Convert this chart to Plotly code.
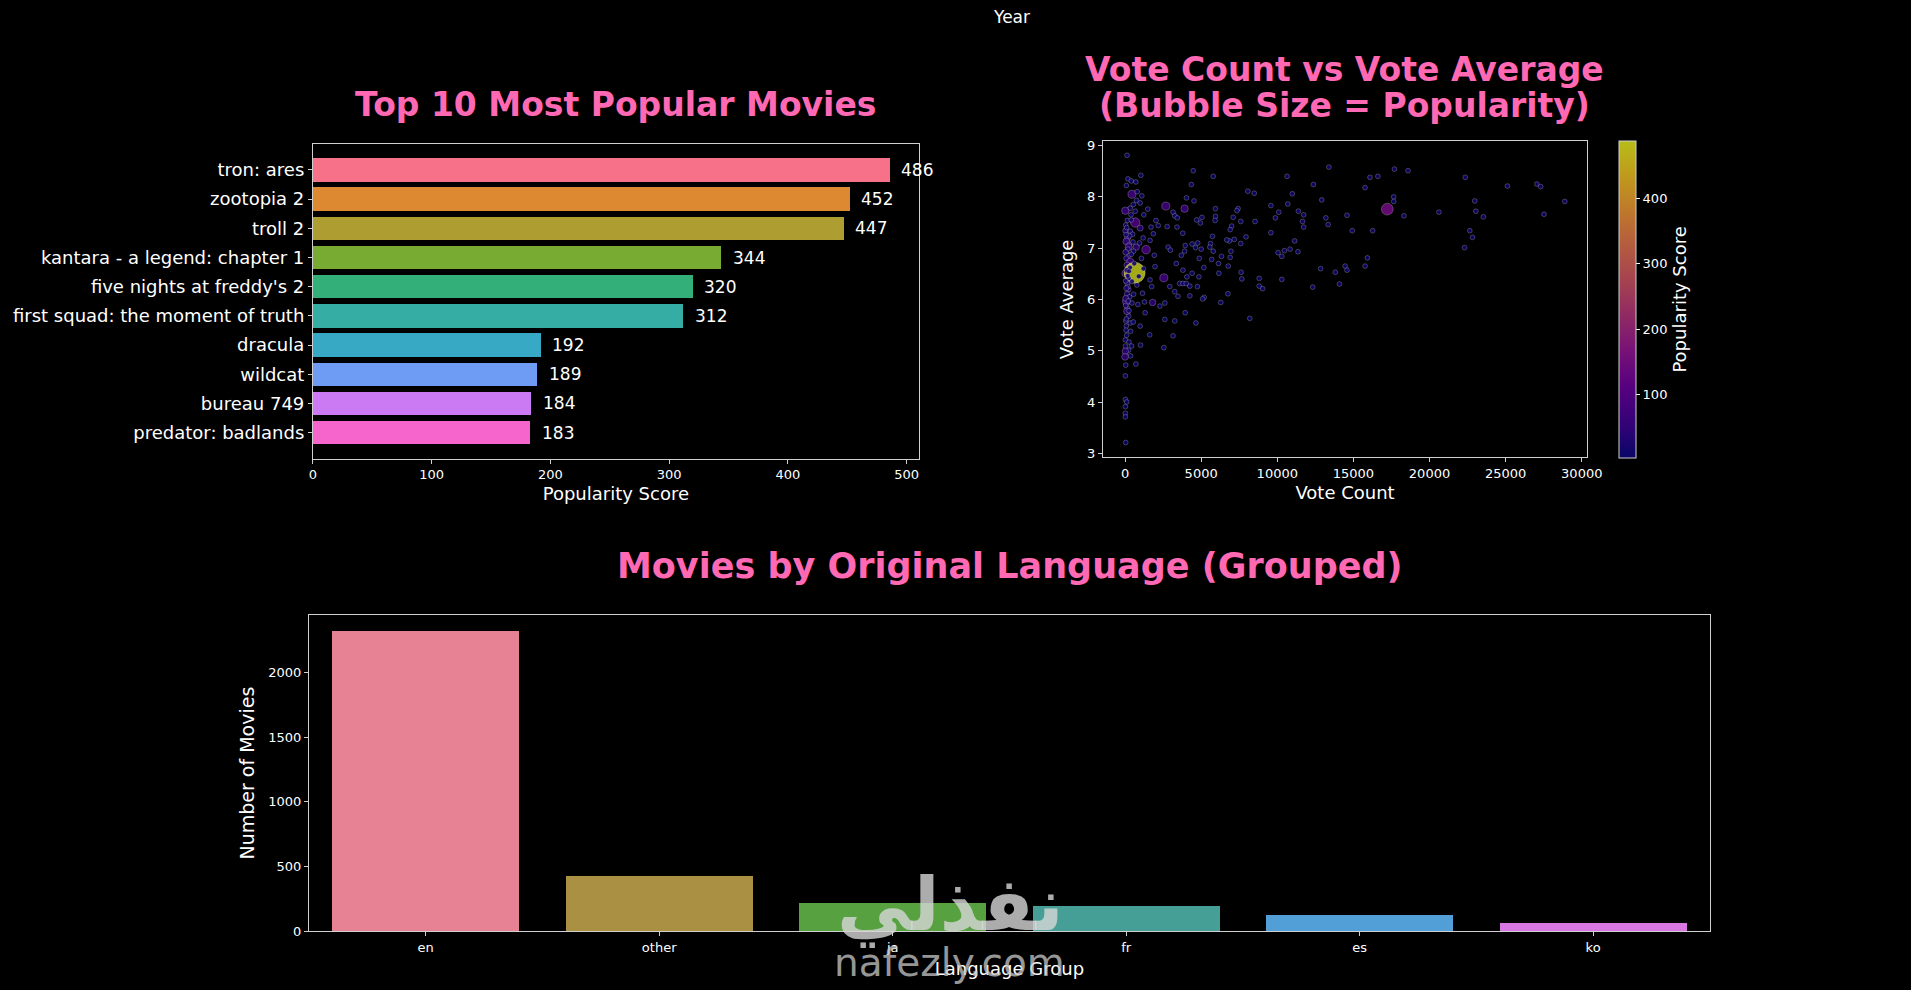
import plotly.graph_objects as go

# Top 10 movies by popularity
movie_titles = ["tron: ares", "zootopia 2", "troll 2", "kantara - a legend: chapter 1",
                "five nights at freddy's 2", "first squad: the moment of truth",
                "dracula", "wildcat", "bureau 749", "predator: badlands"]
movie_popularity = [486, 452, 447, 344, 320, 312, 192, 189, 184, 183]
top_colors = ["#f77189", "#dc8932", "#ae9d31", "#77ab31", "#33b07a",
              "#36ada4", "#38a9c5", "#6e9bf4", "#cc7af4", "#f565cc"]

# Movies per language group
languages = ["en", "other", "ja", "fr", "es", "ko"]
language_counts = [2321, 424, 213, 196, 120, 61]
lang_colors = ["#e68294", "#aa9043", "#58a141", "#459f97", "#519fd6", "#d978e2"]

# Scatter: vote count / vote average / popularity
vote_count = [
    130, 194, 410, 713, 1037, 86, 454, 799, 1102, 756, 994, 22, 346, 670, 1490, 389, 151, 670,
    994, 22, 346, 497, 173, 86, 281, 238, 734, 1382, 562, 281, 86, 346, 130, 22, 626, 238, 151,
    778, 238, 130, 86, 454, 842, 151, 130, 238, 346, 86, 994,
    2678, 3910, 2030, 3154, 3262, 3434, 2182, 2765, 3413, 1706, 1858, 1642, 1922, 2830, 2981,
    3953, 3694, 3370, 3802, 1966, 2549, 1642, 1750, 3586, 3802, 4018, 2938, 3262, 3478, 2614,
    1814, 2290, 3953, 2614, 3262, 1318,
    43, 540, 65, 367, 1620, 3154, 108, 22, 259, 432, 1015, 22, 238, 22, 367, 0, 713, 2549, 43,
    22, 22, 108, 22, 22, 22, 43,
    43, 108, 302, 65, 194, 43, 324, 108, 259, 43, 194, 86, 302, 43, 216, 43, 259, 86, 173, 411,
    519, 605, 454, 562, 411, 540, 1188, 1210, 1145, 1280, 1080, 950, 905, 1232,
    13390, 25121, 27052, 27299, 28883, 27522, 22349, 22968, 23042, 23537, 22646, 22820, 22300,
    20617, 18587, 17696, 17647, 17647, 17226, 18315, 16607, 16088, 15766, 16261, 15914, 15766,
    14924, 14578, 14454, 14578, 13810, 14083, 13340, 13192, 12920, 12845, 12375, 12325, 11731,
    11657, 11731, 11385, 10989, 10643, 10692, 11138, 10841, 11360, 10469, 10296, 10296, 10049,
    10098, 9875, 9578, 9578, 9034, 8811, 8811, 8489, 8069, 8539, 7945, 8192, 7672, 7623, 7598,
    7598, 7425, 7351, 7177, 7103, 7004, 6905, 6855, 6955, 6905, 6781, 6757, 6683, 6336, 6287,
    6138, 6163, 5792, 5940, 5940, 5915, 5742, 5618, 5792, 5693, 5569, 5173, 5198, 5099, 5049,
    4950, 5000, 4777, 4876, 4851, 4752, 4703, 4480, 4529, 4356, 4406, 4406, 4628, 4653, 4257,
    4257, 4034, 3910, 3787, 4059,
]
vote_average = [
    8.81, 8.35, 8.31, 8.29, 8.42, 8.22, 8.05, 8.10, 8.02, 7.93, 7.88, 7.73, 7.78, 7.72, 7.76,
    7.65, 7.54, 7.50, 7.39, 7.34, 7.33, 7.27, 7.20, 7.13, 7.07, 7.02, 7.02, 6.97, 6.94, 6.86,
    6.80, 6.73, 6.67, 6.51, 6.52, 6.41, 6.31, 6.28, 6.19, 6.11, 5.96, 5.93, 5.90, 5.83, 5.77,
    5.67, 5.54, 5.48, 5.48,
    7.82, 7.77, 7.54, 7.70, 7.63, 7.59, 7.44, 7.42, 7.41, 7.41, 7.28, 7.15, 6.86, 7.02, 6.96,
    7.05, 6.86, 6.70, 6.57, 6.64, 6.42, 6.38, 6.25, 6.31, 6.31, 6.31, 6.25, 6.15, 6.06, 5.93,
    5.94, 5.87, 5.74, 5.61, 5.58, 5.74,
    5.58, 5.56, 5.40, 5.38, 5.31, 5.29, 5.30, 5.21, 5.17, 5.09, 5.11, 5.09, 5.01, 4.99, 4.90,
    4.88, 4.74, 5.06, 4.72, 4.51, 4.05, 4.00, 3.91, 3.78, 3.71, 3.21,
    7.45, 7.40, 7.24, 7.26, 6.98, 6.92, 6.62, 6.57, 6.55, 6.36, 6.25, 6.22, 6.05, 6.02, 5.97,
    5.88, 5.78, 5.62, 6.46, 6.88, 7.12, 6.70, 6.35, 6.10, 7.55, 7.85, 7.20, 6.60, 6.12, 5.95,
    6.80, 7.10, 6.45, 7.65,
    8.58, 8.21, 8.25, 8.20, 7.91, 7.66, 8.38, 7.92, 7.72, 7.61, 7.34, 7.21, 7.01, 7.70, 8.51,
    8.54, 8.00, 7.91, 7.76, 7.63, 8.40, 8.38, 8.18, 7.34, 6.81, 6.65, 7.34, 7.64, 6.65, 6.57,
    6.53, 6.30, 7.46, 7.59, 7.94, 6.60, 8.24, 6.24, 7.65, 7.52, 7.41, 7.72, 8.06, 8.40, 7.86,
    7.14, 6.98, 6.93, 6.95, 6.84, 6.39, 6.91, 7.70, 7.59, 7.83, 7.30, 6.21, 6.41, 6.26, 8.07,
    8.11, 7.52, 7.22, 5.63, 6.40, 6.53, 7.09, 7.52, 7.77, 7.73, 7.17, 7.60, 7.43, 7.36, 7.14,
    6.94, 6.82, 6.65, 6.11, 7.16, 6.84, 5.94, 6.70, 6.51, 8.40, 7.77, 7.62, 7.54, 7.23, 7.09,
    6.94, 6.78, 7.02, 6.62, 6.04, 6.01, 7.60, 7.49, 6.98, 7.10, 6.80, 6.44, 6.25, 7.55, 8.51,
    7.92, 8.24, 7.08, 6.51, 7.01, 5.54, 6.26, 6.07, 7.98, 6.94, 7.29, 6.44,
]
popularity = [
    10, 8, 8, 8, 6, 8, 70, 10, 8, 8, 10, 60, 12, 10, 8, 14, 20, 95, 40, 30, 16, 12, 40, 50, 24,
    55, 45, 80, 14, 20, 30, 60, 40, 55, 486, 22, 30, 18, 24, 30, 65, 12, 10, 20, 50, 14, 10, 16, 8,
    70, 60, 10, 14, 10, 8, 8, 10, 8, 12, 8, 10, 8, 12, 10, 8, 8, 8, 10, 8, 70, 8, 8, 10, 12, 8,
    8, 6, 6, 8, 45, 6, 6, 6, 6, 8,
    10, 8, 10, 8, 6, 6, 10, 12, 8, 8, 6, 10, 8, 45, 8, 50, 6, 6, 8, 6, 6, 6, 6, 6, 6, 6,
    10, 16, 10, 22, 16, 35, 12, 28, 16, 24, 12, 30, 10, 40, 14, 22, 8, 14, 18, 10, 10, 12, 10,
    10, 10, 10, 8, 8, 8, 8, 10, 10, 10, 8,
    12, 14, 16, 12, 18, 10, 12, 10, 20, 10, 18, 8, 8, 10, 12, 14, 10, 8, 150, 8, 10, 14, 12, 20,
    8, 12, 14, 8, 10, 10, 8, 12, 8, 8, 16, 8, 8, 8, 10, 22, 12, 14, 16, 8, 8, 20, 8, 8, 12, 8,
    10, 8, 8, 10, 8, 10, 8, 8, 8, 10, 8, 6, 6, 6, 8, 12, 6, 8, 8, 6, 8, 10, 10, 6, 8, 6, 10, 10,
    6, 6, 6, 6, 6, 6, 6, 6, 6, 6, 6, 6, 8, 6, 6, 6, 8, 6, 10, 8, 12, 8, 6, 8, 6, 6, 6, 14, 8, 6,
    6, 6, 6, 8, 8, 6, 6, 6, 6, 6, 6,
]

FONT = "DejaVu Sans"
PINK = "#ff69b4"
W, H = 1911, 990

# plasma, dimmed as if drawn with alpha on black
plasma = ["#0d0887", "#46039f", "#7201a8", "#9c179e", "#bd3786",
          "#d8576b", "#ed7953", "#fb9f3a", "#fdca26", "#f0f921"]


def dim(c, k=0.76):
    r, g, b = int(c[1:3], 16), int(c[3:5], 16), int(c[5:7], 16)
    return "rgb(%d,%d,%d)" % (r * k, g * k, b * k)


plasma_dim = [[i / (len(plasma) - 1), dim(c)] for i, c in enumerate(plasma)]


def px_x(v):
    return v / W


def px_y(v):
    return 1 - v / H


fig = go.Figure()

# top 10 bars
fig.add_trace(go.Bar(
    x=movie_popularity, y=movie_titles, orientation="h",
    marker=dict(color=top_colors, line=dict(width=0)), width=0.8,
    xaxis="x", yaxis="y", showlegend=False, hoverinfo="x+y"
))

# bubble scatter
fig.add_trace(go.Scatter(
    x=vote_count, y=vote_average, mode="markers",
    xaxis="x2", yaxis="y2", showlegend=False,
    marker=dict(
        size=popularity, sizemode="area", sizeref=486 / 15 ** 2, sizemin=2.4,
        color=popularity, colorscale=plasma_dim, cmin=3.2, cmax=488,
        opacity=0.9, line=dict(color="rgba(255,255,255,0.5)", width=0.5),
        colorbar=dict(
            x=px_x(1631.5), xanchor="left", xpad=0, ypad=0,
            y=(px_y(139.5) + px_y(460)) / 2, yanchor="middle",
            len=(460 - 139.5) / H, lenmode="fraction", thickness=17,
            outlinecolor="#cfcfcf", outlinewidth=1,
            tickvals=[100, 200, 300, 400], ticks="outside", ticklen=4,
            tickcolor="white", tickfont=dict(family=FONT, size=13, color="white"),
            title=dict(text="Popularity Score", side="right",
                       font=dict(family=FONT, size=18, color="white")),
        ),
    ),
))

# language bars
fig.add_trace(go.Bar(
    x=languages, y=language_counts, marker=dict(color=lang_colors, line=dict(width=0)),
    width=0.8, xaxis="x3", yaxis="y3", showlegend=False
))

axis_style = dict(showline=True, mirror=True, linecolor="#d0d0d0", linewidth=1,
                  ticks="outside", ticklen=4, tickcolor="#d0d0d0", showgrid=False,
                  zeroline=False, tickfont=dict(family=FONT, size=13, color="white"))
title_font = dict(family=FONT, size=18, color="white")

fig.update_layout(
    width=W, height=H, autosize=False, margin=dict(l=0, r=0, t=0, b=0),
    paper_bgcolor="black", plot_bgcolor="black",
    font=dict(family=FONT, color="white"),
    bargap=0,
    xaxis=dict(axis_style, domain=[px_x(312), px_x(924)], anchor="y", range=[0, 510.3],
               tickvals=[0, 100, 200, 300, 400, 500],
               title=dict(text="Popularity Score", font=title_font, standoff=6)),
    yaxis=dict(axis_style, domain=[px_y(460.7), px_y(142.6)], anchor="x",
               type="category", categoryorder="array", categoryarray=movie_titles,
               range=[9.89, -0.89], tickfont=dict(family=FONT, size=18, color="white")),
    xaxis2=dict(axis_style, domain=[px_x(1110), px_x(1599)], anchor="y2",
                range=[-1450, 30350], tickvals=[0, 5000, 10000, 15000, 20000, 25000, 30000],
                tickformat="d",
                title=dict(text="Vote Count", font=title_font, standoff=6)),
    yaxis2=dict(axis_style, domain=[px_y(459.5), px_y(140)], anchor="x2",
                range=[2.92, 9.08], tickvals=[3, 4, 5, 6, 7, 8, 9],
                title=dict(text="Vote Average", font=title_font, standoff=8)),
    xaxis3=dict(axis_style, domain=[px_x(308), px_x(1723)], anchor="y3",
                type="category", range=[-0.5, 5.5],
                title=dict(text="Language Group", font=title_font, standoff=8)),
    yaxis3=dict(axis_style, domain=[px_y(938.5), px_y(619)], anchor="x3",
                range=[0, 2442], tickvals=[0, 500, 1000, 1500, 2000],
                title=dict(text="Number of Movies", font=dict(title_font, size=19), standoff=8)),
)

annotations = []
for name, val in zip(movie_titles, movie_popularity):
    annotations.append(dict(x=val + 8, y=name, xref="x", yref="y", text=str(val),
                            xanchor="left", yanchor="middle", showarrow=False,
                            font=dict(family=FONT, size=17, color="white")))

title_pink = dict(family=FONT, size=33, color=PINK)
titles = [
    ("Year", 1018, 14, dict(family=FONT, size=17, color="white")),
    ("<b>Top 10 Most Popular Movies</b>", 618, 103, title_pink),
    ("<b>Vote Count vs Vote Average</b>", 1354, 67, title_pink),
    ("<b>(Bubble Size = Popularity)</b>", 1354, 104, title_pink),
    ("<b>Movies by Original Language (Grouped)</b>", 1016, 569,
     dict(family=FONT, size=35, color=PINK)),
]
for text, x, y, f in titles:
    annotations.append(dict(x=px_x(x), y=px_y(y), xref="paper", yref="paper", text=text,
                            xanchor="center", yanchor="middle", showarrow=False, font=f))

# site watermark over the lower chart
annotations.append(dict(x=px_x(956), y=px_y(912), xref="paper", yref="paper", text="<b>نفذلي</b>",
                        xanchor="center", yanchor="middle", showarrow=False,
                        font=dict(family=FONT, size=74, color="rgba(215,215,215,0.8)")))
annotations.append(dict(x=px_x(955), y=px_y(970), xref="paper", yref="paper", text="nafezly.com",
                        xanchor="center", yanchor="middle", showarrow=False,
                        font=dict(family=FONT, size=39, color="rgba(200,200,200,0.75)")))

fig.update_layout(annotations=annotations)

page_fix = ("document.documentElement.style.overflow='hidden';"
            "document.body.style.overflow='hidden';"
            "document.body.style.margin='0px';"
            "document.body.style.background='black';")
fig.write_html("out.html", config={"displayModeBar": False}, post_script=page_fix)
